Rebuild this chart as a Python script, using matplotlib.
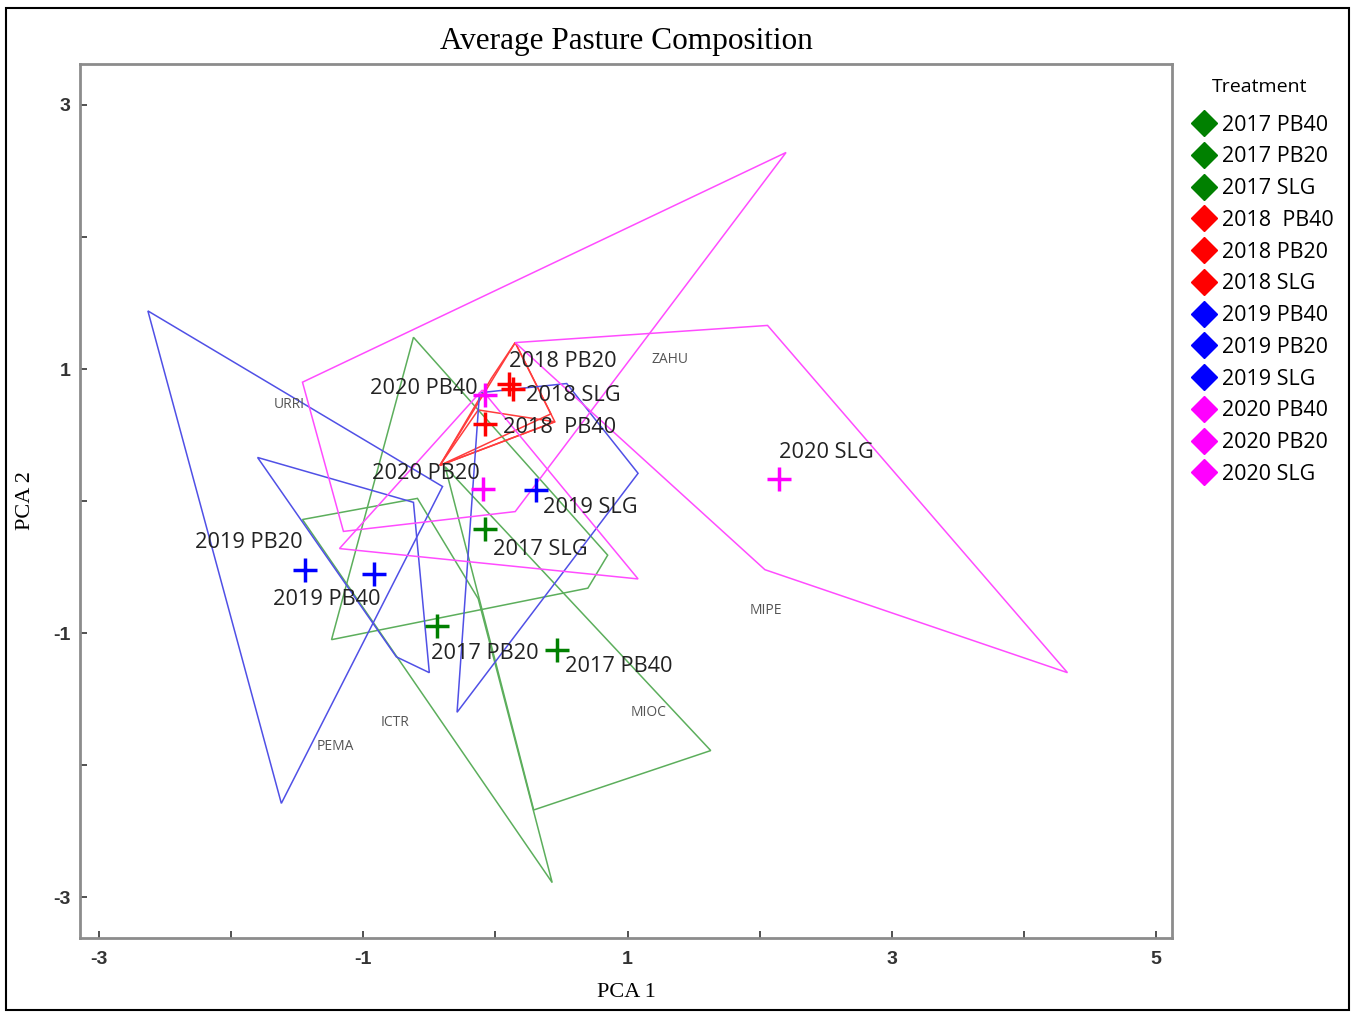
import numpy as np
import matplotlib.pyplot as plt
from matplotlib.patches import Polygon, Rectangle
from matplotlib.lines import Line2D
from matplotlib.ticker import MultipleLocator

plt.rcParams['axes.unicode_minus'] = False

# treatments, in legend order
treatments = ['2017 PB40', '2017 PB20', '2017 SLG',
              '2018  PB40', '2018 PB20', '2018 SLG',
              '2019 PB40', '2019 PB20', '2019 SLG',
              '2020 PB40', '2020 PB20', '2020 SLG']

# hull vertices (PCA 1, PCA 2) for each treatment
hull_2017_pb40 = [(-0.38, 0.26), (1.63, -1.89), (0.29, -2.34)]
hull_2017_pb20 = [(-1.46, -0.14), (-0.59, 0.02), (-0.13, -0.74), (0.43, -2.89)]
hull_2017_slg = [(-0.62, 1.24), (0.85, -0.41), (0.70, -0.66), (-1.24, -1.05)]
hull_2018_pb40 = [(-0.42, 0.27), (-0.13, 0.69), (0.45, 0.60)]
hull_2018_pb20 = [(-0.42, 0.27), (0.15, 1.20), (0.45, 0.60)]
hull_2018_slg = [(-0.42, 0.27), (-0.03, 0.93), (0.15, 1.20), (0.42, 0.66)]
hull_2019_pb40 = [(-1.80, 0.33), (-0.62, -0.01), (-0.50, -1.30), (-0.75, -1.18)]
hull_2019_pb20 = [(-2.63, 1.44), (-0.40, 0.11), (-1.62, -2.29)]
hull_2019_slg = [(-0.12, 0.82), (0.54, 0.89), (1.08, 0.21), (-0.29, -1.60)]
hull_2020_pb40 = [(-1.46, 0.90), (2.20, 2.64), (0.15, -0.08), (-1.15, -0.23)]
hull_2020_pb20 = [(-1.18, -0.36), (-0.10, 0.84), (1.08, -0.59)]
hull_2020_slg = [(0.15, 1.20), (2.06, 1.33), (4.33, -1.30), (2.04, -0.52)]

hulls = [hull_2017_pb40, hull_2017_pb20, hull_2017_slg,
         hull_2018_pb40, hull_2018_pb20, hull_2018_slg,
         hull_2019_pb40, hull_2019_pb20, hull_2019_slg,
         hull_2020_pb40, hull_2020_pb20, hull_2020_slg]

# treatment means
mean_x = [0.47, -0.44, -0.08, -0.08, 0.10, 0.13, -0.92, -1.44, 0.31, -0.08, -0.09, 2.15]
mean_y = [-1.13, -0.95, -0.21, 0.58, 0.89, 0.85, -0.55, -0.52, 0.08, 0.80, 0.09, 0.17]

# species
species = ['URRI', 'ZAHU', 'MIPE', 'MIOC', 'ICTR', 'PEMA']
species_x = [-1.56, 1.32, 2.05, 1.16, -0.76, -1.21]
species_y = [0.73, 1.07, -0.83, -1.60, -1.68, -1.86]

# colours per year
mark_col = {'2017': '#008000', '2018': '#ff0000', '2019': '#0000ff', '2020': '#ff00ff'}
hull_col = {'2017': '#5cae5c', '2018': '#ff3c3c', '2019': '#5050e6', '2020': '#ff4cff'}

# label offsets in pixels (dx, dy)
lab_off = [(8, -16), (-6, -27), (8, -21), (18, -3), (0, 22), (13, -7),
           (-101, -26), (-110, 27), (7, -17), (-115, 7), (-111, 16), (0, 26)]

fig = plt.figure(figsize=(13.51, 10.13), dpi=100)
ax = fig.add_axes([0.0592, 0.0740, 0.8083, 0.8628])

for i, name in enumerate(treatments):
    yr = name[:4]
    ax.add_patch(Polygon(hulls[i], closed=True, fill=False, ec=hull_col[yr], lw=1.1))

for i, name in enumerate(treatments):
    yr = name[:4]
    ax.plot(mean_x[i], mean_y[i], marker='+', ms=17, mew=2.5, color=mark_col[yr], ls='none')
    ax.annotate(name, (mean_x[i], mean_y[i]),
                xytext=lab_off[i], textcoords='offset pixels', ha='left', va='center',
                fontsize=15.7, family='Open Sans', color='#222222')

for s, sx, sy in zip(species, species_x, species_y):
    ax.text(sx, sy, s, ha='center', va='center', fontsize=10, family='Open Sans', color='#555555')

ax.set_xlim(-3.144, 5.121)
ax.set_ylim(-3.31, 3.31)
ax.xaxis.set_major_locator(MultipleLocator(2, offset=1))
ax.xaxis.set_minor_locator(MultipleLocator(1))
ax.yaxis.set_major_locator(MultipleLocator(2, offset=1))
ax.yaxis.set_minor_locator(MultipleLocator(1))
ax.tick_params(which='both', direction='in', length=5, width=1.2, color='#333333',
               top=False, right=False)
ax.tick_params(axis='x', which='major', labelsize=14, pad=9)
ax.tick_params(axis='y', which='major', labelsize=14, pad=7)
for lab in ax.get_xticklabels() + ax.get_yticklabels():
    lab.set_family('Liberation Sans')
    lab.set_fontweight('bold')
    lab.set_color('#333333')
for sp in ax.spines.values():
    sp.set_color('#8c8c8c')
    sp.set_linewidth(2)

ax.set_title('Average Pasture Composition', family='Liberation Serif', fontsize=22.5, pad=11)
ax.set_xlabel('PCA 1', family='Liberation Serif', fontsize=16, labelpad=11)
ax.set_ylabel('PCA 2', family='Liberation Serif', fontsize=16)
ax.yaxis.set_label_coords(-0.041, 0.5)

# legend
fig.text(0.932, 0.914, 'Treatment', ha='center', va='center', family='Open Sans', fontsize=14)
handles = [Line2D([], [], marker='D', ls='none', ms=13, color=mark_col[n[:4]]) for n in treatments]
fig.legend(handles, treatments, loc='upper left', bbox_to_anchor=(0.866, 0.906),
           frameon=False, prop={'family': 'Open Sans', 'size': 15.5},
           handletextpad=0.1, handlelength=1.4, labelspacing=0.5)

fig.add_artist(Rectangle((0.0045, 0.003), 0.994, 0.989, transform=fig.transFigure,
                         fill=False, ec='black', lw=1.5))

fig.savefig('out.png', dpi=100)
